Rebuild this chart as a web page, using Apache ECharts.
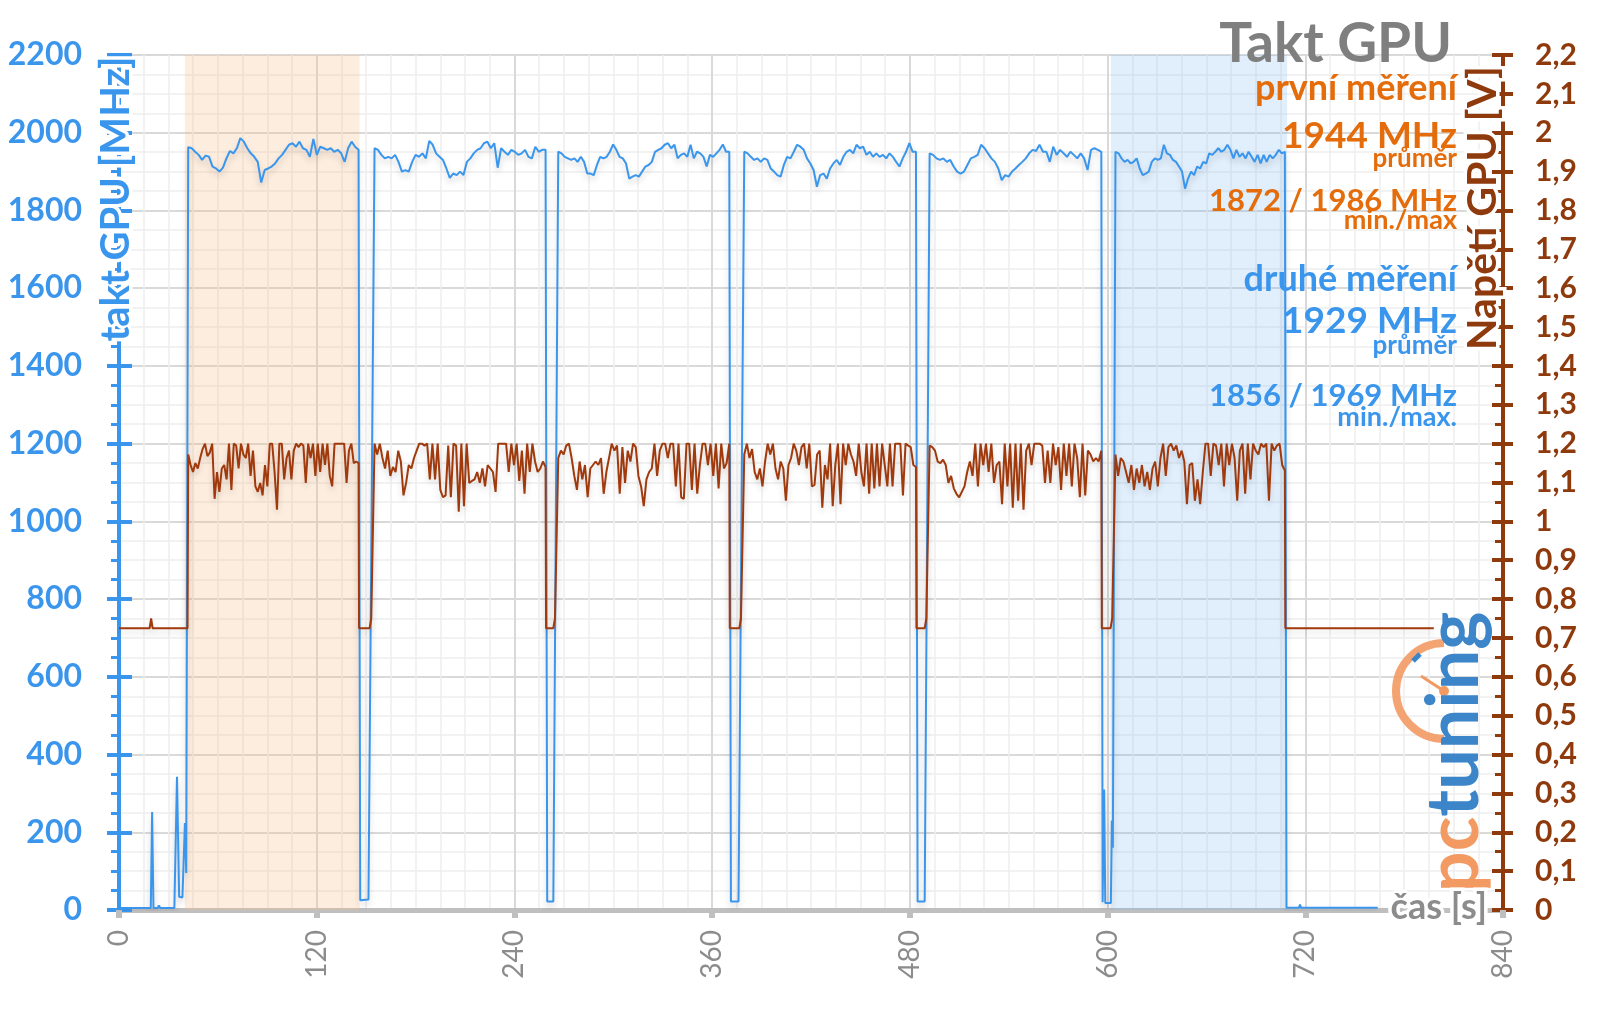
<!DOCTYPE html>
<html><head><meta charset="utf-8">
<script src="https://cdn.jsdelivr.net/npm/echarts/dist/echarts.min.js"></script>
<style>html,body{margin:0;padding:0;background:#fff}#c{width:1600px;height:1009px}</style>
</head><body><div id="c"></div>
<script>
// ---- time axis ticks ----
const xTicks = [0, 120, 240, 360, 480, 600, 720, 840];
// ---- benchmark segments (seconds) ----
const segStart = [42.0, 155.1, 266.6, 379.5, 492.0, 604.8];
const segEnd   = [145.4, 258.9, 370.4, 483.7, 596.2, 707.6];
// ---- GPU clock [MHz] during each segment (evenly sampled) ----
const clock1 = [1963,1960,1951,1943,1930,1941,1938,1913,1908,1900,1910,1934,1953,1947,1960,1986,1977,1960,1947,1938,1925,1872,1904,1908,1913,1921,1934,1943,1956,1969,1973,1964,1977,1960,1956,1938,1984,1943,1964,1960,1956,1960,1951,1956,1947,1925,1960,1977,1964,1956];
const clock2 = [1960,1956,1943,1934,1938,1934,1943,1925,1900,1904,1900,1925,1943,1938,1947,1934,1979,1969,1947,1938,1930,1908,1884,1895,1891,1900,1891,1925,1934,1947,1956,1960,1973,1977,1960,1973,1910,1960,1951,1943,1956,1951,1943,1947,1956,1938,1934,1964,1951,1956,1956];
const clock3 = [1951,1947,1938,1934,1930,1934,1925,1938,1925,1895,1895,1891,1917,1938,1934,1938,1951,1970,1956,1938,1934,1921,1882,1887,1891,1887,1900,1913,1917,1925,1951,1956,1960,1969,1973,1960,1969,1934,1943,1947,1938,1969,1934,1951,1947,1938,1913,1943,1938,1947,1956,1970,1951,1951];
const clock4 = [1951,1947,1938,1930,1934,1925,1934,1930,1908,1900,1891,1887,1917,1938,1934,1951,1969,1964,1956,1934,1921,1904,1861,1891,1895,1882,1908,1921,1930,1917,1938,1951,1956,1947,1969,1960,1964,1943,1951,1938,1947,1938,1943,1934,1947,1938,1925,1913,1934,1951,1973,1951,1951];
const clock5 = [1947,1943,1934,1930,1934,1925,1930,1913,1900,1895,1900,1917,1934,1938,1943,1969,1960,1947,1934,1925,1908,1878,1891,1887,1900,1908,1917,1925,1934,1947,1956,1953,1969,1951,1951,1925,1964,1943,1956,1947,1938,1951,1943,1934,1947,1934,1904,1956,1960,1956,1951];
const clock6 = [1951,1947,1934,1925,1930,1921,1925,1934,1908,1891,1895,1900,1925,1934,1930,1934,1969,1947,1943,1930,1925,1913,1900,1856,1882,1900,1891,1913,1908,1925,1921,1947,1943,1951,1960,1951,1956,1969,1956,1934,1956,1938,1947,1934,1951,1938,1925,1943,1921,1943,1925,1943,1934,1943,1956,1947,1951];
// ---- GPU clock idle / gaps [time, MHz] ----
const clockPre  = [[0,5],[19.3,5],[20.1,252],[20.9,5],[23.5,5],[24.2,12],[25,5],[33.6,5],[35.2,343],[36.5,34],[38.5,32],[40,224],[40.8,95]];
const clockGap1 = [[146.4,25],[151.4,27]];
const clockGap2 = [[259.9,22],[263.6,22]];
const clockGap3 = [[371.4,22],[376.0,22]];
const clockGap4 = [[484.7,22],[489.0,22]];
const clockGap5 = [[597.0,20],[597.9,310],[598.6,18],[602.0,18],[602.6,230],[603.2,160]];
const clockPost = [[708.6,6],[716.2,6],[716.8,14],[717.4,6],[764,6]];
// ---- GPU voltage [V] during each segment ----
const volt1 = [1.172,1.145,1.127,1.150,1.136,1.163,1.186,1.200,1.168,1.177,1.200,1.058,1.127,1.076,1.136,1.145,1.108,1.200,1.081,1.200,1.195,1.136,1.200,1.172,1.163,1.200,1.117,1.182,1.090,1.076,1.099,1.067,1.145,1.090,1.200,1.200,1.127,1.030,1.200,1.200,1.108,1.163,1.182,1.108,1.182,1.200,1.191,1.200,1.195,1.099,1.200,1.163,1.200,1.117,1.200,1.127,1.200,1.145,1.200,1.117,1.090,1.200,1.200,1.200,1.200,1.200,1.099,1.182,1.200,1.150,1.154,1.150];
const volt2 = [1.200,1.172,1.200,1.163,1.136,1.182,1.117,1.140,1.127,1.182,1.154,1.067,1.099,1.145,1.136,1.163,1.182,1.200,1.200,1.195,1.200,1.108,1.200,1.108,1.200,1.081,1.062,1.067,1.195,1.062,1.200,1.195,1.025,1.200,1.039,1.200,1.099,1.104,1.108,1.127,1.099,1.136,1.090,1.145,1.136,1.127,1.076,1.200,1.200,1.200,1.200,1.127,1.200,1.145,1.200,1.104,1.182,1.071,1.200,1.127,1.200,1.154,1.127,1.136,1.154,1.140];
const volt3 = [1.163,1.182,1.172,1.195,1.200,1.163,1.117,1.081,1.154,1.108,1.145,1.062,1.136,1.145,1.154,1.145,1.163,1.071,1.127,1.163,1.200,1.182,1.195,1.071,1.191,1.099,1.182,1.154,1.200,1.191,1.117,1.090,1.039,1.108,1.127,1.136,1.200,1.117,1.182,1.200,1.200,1.163,1.200,1.200,1.090,1.200,1.062,1.058,1.200,1.200,1.081,1.200,1.071,1.145,1.200,1.200,1.145,1.200,1.117,1.200,1.085,1.200,1.136,1.150,1.200];
const volt4 = [1.172,1.200,1.163,1.186,1.127,1.108,1.136,1.090,1.154,1.200,1.172,1.200,1.136,1.108,1.154,1.136,1.053,1.145,1.163,1.200,1.182,1.145,1.191,1.200,1.136,1.200,1.090,1.094,1.172,1.182,1.035,1.145,1.108,1.200,1.039,1.145,1.200,1.044,1.200,1.145,1.200,1.172,1.154,1.117,1.200,1.127,1.090,1.200,1.071,1.200,1.085,1.200,1.090,1.200,1.145,1.090,1.200,1.090,1.200,1.200,1.200,1.067,1.200,1.195,1.191,1.145,1.140];
const volt5 = [1.195,1.191,1.182,1.154,1.150,1.159,1.145,1.099,1.117,1.085,1.071,1.062,1.076,1.090,1.127,1.154,1.117,1.200,1.090,1.200,1.145,1.200,1.127,1.200,1.099,1.145,1.154,1.044,1.200,1.090,1.200,1.035,1.200,1.053,1.200,1.030,1.182,1.200,1.145,1.200,1.200,1.200,1.195,1.099,1.182,1.099,1.200,1.145,1.191,1.081,1.200,1.117,1.200,1.090,1.200,1.163,1.062,1.200,1.067,1.182,1.172,1.154,1.163,1.154,1.182];
const volt6 = [1.172,1.117,1.163,1.154,1.127,1.099,1.145,1.081,1.136,1.099,1.145,1.090,1.127,1.081,1.136,1.154,1.090,1.163,1.200,1.117,1.191,1.200,1.182,1.195,1.163,1.182,1.154,1.044,1.145,1.150,1.053,1.108,1.044,1.127,1.200,1.200,1.117,1.200,1.195,1.145,1.200,1.090,1.200,1.145,1.200,1.163,1.053,1.182,1.200,1.071,1.200,1.108,1.200,1.182,1.172,1.200,1.191,1.200,1.053,1.200,1.182,1.195,1.200,1.145,1.131];
// ---- voltage idle / gaps [time, V] ----
const voltPre  = [[0,0.725],[18.6,0.725],[19.5,0.75],[20.4,0.725],[41.6,0.725]];
const voltGap1 = [[145.7,0.725],[152.1,0.725],[153.1,0.75],[154.1,0.75]];
const voltGap2 = [[259.2,0.725],[263.6,0.725],[264.6,0.75],[265.6,0.75]];
const voltGap3 = [[370.7,0.725],[376.5,0.725],[377.5,0.75],[378.5,0.75]];
const voltGap4 = [[484.0,0.725],[489.0,0.725],[490.0,0.75],[491.0,0.75]];
const voltGap5 = [[596.5,0.725],[601.8,0.725],[602.8,0.75],[603.8,0.75]];
const voltPost = [[707.9,0.725],[798,0.725]];
// ---- highlighted measurement windows [s] ----
const band1 = [40, 146];
const band2 = [602, 709];
// ---- annotation texts ----
const titleText = 'Takt GPU';
const run1 = ['první měření', '1944 MHz', 'průměr', '1872 / 1986 MHz', 'min./max'];
const run2 = ['druhé měření', '1929 MHz', 'průměr', '1856 / 1969 MHz', 'min./max.'];

function seg(i, vals) {
  const s = segStart[i], e = segEnd[i], n = vals.length;
  return vals.map((v, k) => [s + (e - s) * k / (n - 1), v]);
}
const clockData = [].concat(clockPre, seg(0, clock1), clockGap1, seg(1, clock2), clockGap2, seg(2, clock3), clockGap3,
  seg(3, clock4), clockGap4, seg(4, clock5), clockGap5, seg(5, clock6), clockPost);
const voltData = [].concat(voltPre, seg(0, volt1), voltGap1, seg(1, volt2), voltGap2, seg(2, volt3), voltGap3,
  seg(3, volt4), voltGap4, seg(4, volt5), voltGap5, seg(5, volt6), voltPost);

const FONT = 'Lato, "Noto Sans", sans-serif';
const BLUE = '#3A96EC', ORANGE = '#E46C0A', BROWN = '#8F3A0C', GRAY = '#7F7F7F';

const chart = echarts.init(document.getElementById('c'), null, {renderer: 'canvas'});
function txt(text, x, y, size, color) {
  return { type: 'text', x: x, y: y, z: 50,
    style: { text: text, font: 'bold ' + size + 'px ' + FONT, fill: color, align: 'right', verticalAlign: 'middle' } };
}
// text with a white halo: halo copy underneath, coloured copy on top
function haloText(text, x, y, size, color, align, rot) {
  const base = { type: 'text', x: x, y: y, rotation: rot || 0 };
  const st = { text: text, font: 'bold ' + size + 'px ' + FONT, align: align, verticalAlign: 'middle' };
  return [
    Object.assign({}, base, { z: 49, style: Object.assign({}, st, { fill: '#fff', stroke: '#fff', lineWidth: 7 }) }),
    Object.assign({}, base, { z: 50, style: Object.assign({}, st, { fill: color }) })
  ];
}
const option = {
  animation: false,
  backgroundColor: '#fff',
  grid: { left: 119, right: 97, top: 55, bottom: 99, containLabel: false, outerBoundsMode: 'none' },
  xAxis: {
    type: 'value', min: xTicks[0], max: xTicks[xTicks.length - 1], interval: 120,
    axisLine: { show: true, lineStyle: { color: '#BFBFBF', width: 5 } },
    axisTick: { show: true, length: 8, lineStyle: { color: '#BFBFBF', width: 6 } },
    minorTick: { show: false, splitNumber: 8 },
    axisLabel: { rotate: 90, margin: 20, color: '#8C8C8C', fontSize: 28, fontFamily: FONT, showMinLabel: true, showMaxLabel: true,
      formatter: v => String(v) },
    splitLine: { show: true, lineStyle: { color: '#D9D9D9', width: 2 } },
    minorSplitLine: { show: true, lineStyle: { color: '#EEEEEE', width: 1.5 } }
  },
  yAxis: [
    { type: 'value', position: 'left', min: 0, max: 2200, interval: 200,
      axisLine: { show: true, lineStyle: { color: BLUE, width: 4 } },
      axisTick: { show: true, inside: false, length: 12, lineStyle: { color: BLUE, width: 4 } },
      minorTick: { show: true, splitNumber: 4, length: 8, lineStyle: { color: BLUE, width: 3 } },
      axisLabel: { margin: 37, color: BLUE, fontSize: 32, fontWeight: 'bold', fontFamily: FONT, formatter: v => String(v) },
      splitLine: { show: true, lineStyle: { color: '#D9D9D9', width: 2 } },
      minorSplitLine: { show: true, lineStyle: { color: '#EEEEEE', width: 1.5 } }
    },
    { type: 'value', position: 'right', min: 0, max: 2.2, interval: 0.1,
      axisLine: { show: true, lineStyle: { color: BROWN, width: 4 } },
      axisTick: { show: true, inside: true, length: 11, lineStyle: { color: BROWN, width: 4 } },
      minorTick: { show: true, splitNumber: 2, length: 8, lineStyle: { color: BROWN, width: 3 } },
      axisLabel: { margin: 32, color: BROWN, fontSize: 30, fontWeight: 'bold', fontFamily: FONT,
        formatter: v => String(+(+v).toFixed(1)).replace('.', ',') },
      splitLine: { show: false }
    },
    { type: 'value', position: 'left', min: 0, max: 2200, interval: 200,
      axisLine: { show: false }, axisLabel: { show: false }, splitLine: { show: false },
      axisTick: { show: true, inside: true, length: 13, lineStyle: { color: BLUE, width: 4 } } },
    { type: 'value', position: 'right', min: 0, max: 2.2, interval: 0.1,
      axisLine: { show: false }, axisLabel: { show: false }, splitLine: { show: false },
      axisTick: { show: true, inside: false, length: 10, lineStyle: { color: BROWN, width: 4 } } }
  ],
  series: [
    { name: 'takt', type: 'line', yAxisIndex: 0, data: clockData, showSymbol: false, symbol: 'none',
      lineStyle: { color: BLUE, width: 2, shadowColor: 'rgba(0,0,0,0.18)', shadowBlur: 6, shadowOffsetY: 4 },
      markArea: { silent: true, data: [
        [{ xAxis: band1[0], itemStyle: { color: 'rgba(247,190,140,0.28)' } }, { xAxis: band1[1] }],
        [{ xAxis: band2[0], itemStyle: { color: 'rgba(120,180,245,0.22)' } }, { xAxis: band2[1] }]
      ] }
    },
    { name: 'napětí', type: 'line', yAxisIndex: 1, data: voltData, showSymbol: false, symbol: 'none',
      lineStyle: { color: '#A0390C', width: 2, shadowColor: 'rgba(0,0,0,0.15)', shadowBlur: 6, shadowOffsetY: 4 } }
  ],
  graphic: [].concat(
    [txt(titleText, 1452, 44, 55, GRAY),
    txt(run1[0], 1457, 88, 36, ORANGE),
    txt(run1[1], 1457, 136, 37, ORANGE),
    txt(run1[2], 1457, 159, 26, ORANGE),
    txt(run1[3], 1457, 201, 31, ORANGE),
    txt(run1[4], 1457, 220, 27, ORANGE),
    txt(run2[0], 1457, 279, 36, BLUE),
    txt(run2[1], 1457, 321, 37, BLUE),
    txt(run2[2], 1457, 346, 26, BLUE),
    txt(run2[3], 1457, 396, 31, BLUE),
    txt(run2[4], 1457, 417, 27, BLUE)],
    haloText('takt GPU [MHz]', 116, 199, 40, BLUE, 'center', Math.PI / 2),
    haloText('Napětí GPU [V]', 1483, 208, 41, BROWN, 'center', Math.PI / 2),
    haloText('čas [s]', 1487, 907, 36, '#8C8C8C', 'right', 0),
    [
    // logo
    { type: 'arc', z: 40, shape: { cx: 1444, cy: 691, r: 48, startAngle: Math.PI / 2, endAngle: Math.PI * 1.5, clockwise: true },
      style: { stroke: '#F39A63', lineWidth: 8, fill: null, opacity: 0.9 } },
    { type: 'line', z: 41, shape: { x1: 1444, y1: 691, x2: 1421, y2: 676 }, style: { stroke: '#F39A63', lineWidth: 3 } },
    { type: 'circle', z: 41, shape: { cx: 1444, cy: 691, r: 5 }, style: { fill: '#F39A63' } },
    { type: 'line', z: 41, shape: { x1: 1413, y1: 661, x2: 1420, y2: 654 }, style: { stroke: '#3C85C9', lineWidth: 5 } },
    { type: 'text', x: 1455, y: 752, rotation: Math.PI / 2, z: 45,
      style: { text: '{a|pc}{b|tuning}', align: 'center', verticalAlign: 'middle',
        rich: { a: { font: 'bold 72px ' + FONT, fill: '#F39A63' }, b: { font: 'bold 72px ' + FONT, fill: '#3C85C9' } } } }
    ])
};
chart.setOption(option);
</script></body></html>
